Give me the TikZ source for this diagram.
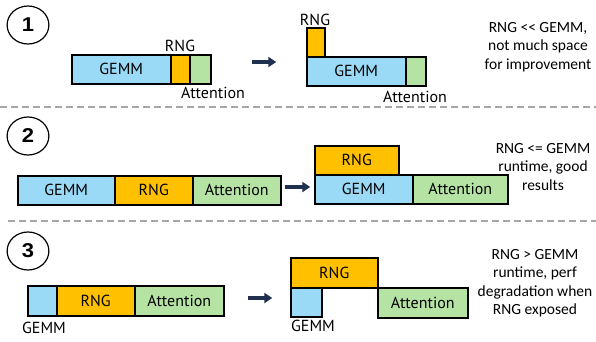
\documentclass[tikz,border=0pt]{standalone}
\usepackage{fontspec}
\setmainfont{PT Sans}
\newfontfamily\notefont{Carlito}
\newfontfamily\numfont{Liberation Sans}
\usetikzlibrary{arrows.meta}
\definecolor{gemmc}{HTML}{9BDAF6}
\definecolor{rngc}{HTML}{FFC000}
\definecolor{attc}{HTML}{B5E3A3}
\definecolor{arrc}{HTML}{1F3050}
\begin{document}
\begin{tikzpicture}[x=1pt,y=-1pt,
  blk/.style={draw=black,line width=1.5pt,inner sep=0pt,anchor=north west,font=\fontsize{16}{18}\selectfont},
  gemmbox/.style={blk,fill=gemmc},
  rngbox/.style={blk,fill=rngc},
  attbox/.style={blk,fill=attc},
  lbl/.style={inner sep=0pt,font=\fontsize{16}{18}\selectfont},
  numc/.style={draw=black,line width=1.2pt,circle,minimum size=38pt,inner sep=0pt,xscale=1.1,font=\numfont\bfseries\fontsize{20}{22}\selectfont},
  note/.style={align=center,inner sep=0pt,font=\notefont\fontsize{15.5}{18.5}\selectfont},
  bigarrow/.style={draw=arrc,line width=4pt,-{Triangle[length=8pt,width=10pt]}},
  sep/.style={draw=gray!70,line width=1.2pt,dash pattern=on 7pt off 4pt}
]
\useasboundingbox (0,0) rectangle (596,341);
% circles
\node[numc] (n1) at (28,25) {1};
\node[numc] (n2) at (28,136) {2};
\node[numc] (n3) at (28,251) {3};
% separators
\coordinate (s1a) at (0,107); \coordinate (s1b) at (596,107);
\coordinate (s2a) at (8,221); \coordinate (s2b) at (596,221);
\draw[sep] (s1a) -- (s1b);
\draw[sep] (s2a) -- (s2b);

% ---- section 1
\node[gemmbox,minimum width=99pt,minimum height=29pt] (g1) at (71,54) {GEMM};
\node[rngbox,minimum width=19pt,minimum height=29pt] (r1) at (170,54) {};
\node[attbox,minimum width=21pt,minimum height=29pt] (a1) at (189,54) {};
\node[lbl,anchor=base] (r1l) at (180,51) {RNG};
\node[lbl,anchor=base] (a1l) at (213,98) {Attention};
\node[inner sep=0pt] (p1a) at (251,62) {};
\node[inner sep=0pt] (p1b) at (277,62) {};
\draw[bigarrow] (p1a) -- (p1b);
\node[rngbox,minimum width=18pt,minimum height=29pt] (r1b) at (306,27) {};
\node[gemmbox,minimum width=99pt,minimum height=29pt] (g1b) at (306,56) {GEMM};
\node[attbox,minimum width=20pt,minimum height=29pt] (a1b) at (405,56) {};
\node[lbl,anchor=base] (r1bl) at (315,25) {RNG};
\node[lbl,anchor=base] (a1bl) at (415,102) {Attention};
\node[note] (t1) at (538,47) {RNG << GEMM,\\not much space\\for improvement};

% ---- section 2
\node[gemmbox,minimum width=97pt,minimum height=29pt] (g2) at (17,175) {GEMM};
\node[rngbox,minimum width=78pt,minimum height=29pt] (r2) at (114,175) {RNG};
\node[attbox,minimum width=88pt,minimum height=29pt] (a2) at (192,175) {Attention};
\node[inner sep=0pt] (p2a) at (284,187) {};
\node[inner sep=0pt] (p2b) at (311,187) {};
\draw[bigarrow] (p2a) -- (p2b);
\node[rngbox,minimum width=84pt,minimum height=29pt] (r2b) at (314,145) {RNG};
\node[gemmbox,minimum width=98pt,minimum height=29pt] (g2b) at (314,174) {GEMM};
\node[attbox,minimum width=95pt,minimum height=29pt] (a2b) at (412,174) {Attention};
\node[note] (t2) at (543,167) {RNG <= GEMM\\runtime, good\\results};

% ---- section 3
\node[gemmbox,minimum width=29pt,minimum height=30pt] (g3) at (27,285) {};
\node[rngbox,minimum width=78pt,minimum height=30pt] (r3) at (56,285) {RNG};
\node[attbox,minimum width=89pt,minimum height=30pt] (a3) at (134,285) {Attention};
\node[lbl,anchor=base] (g3l) at (44,333) {GEMM};
\node[inner sep=0pt] (p3a) at (247,298) {};
\node[inner sep=0pt] (p3b) at (273,298) {};
\draw[bigarrow] (p3a) -- (p3b);
\node[rngbox,minimum width=87pt,minimum height=30pt] (r3b) at (290,257) {RNG};
\node[gemmbox,minimum width=31pt,minimum height=29pt] (g3b) at (290,287) {};
\node[attbox,minimum width=90pt,minimum height=30pt] (a3b) at (377,287) {Attention};
\node[lbl,anchor=base] (g3bl) at (313,331) {GEMM};
\node[note] (t3) at (535,283) {RNG > GEMM\\runtime, perf\\degradation when\\RNG exposed};
\end{tikzpicture}
\end{document}
